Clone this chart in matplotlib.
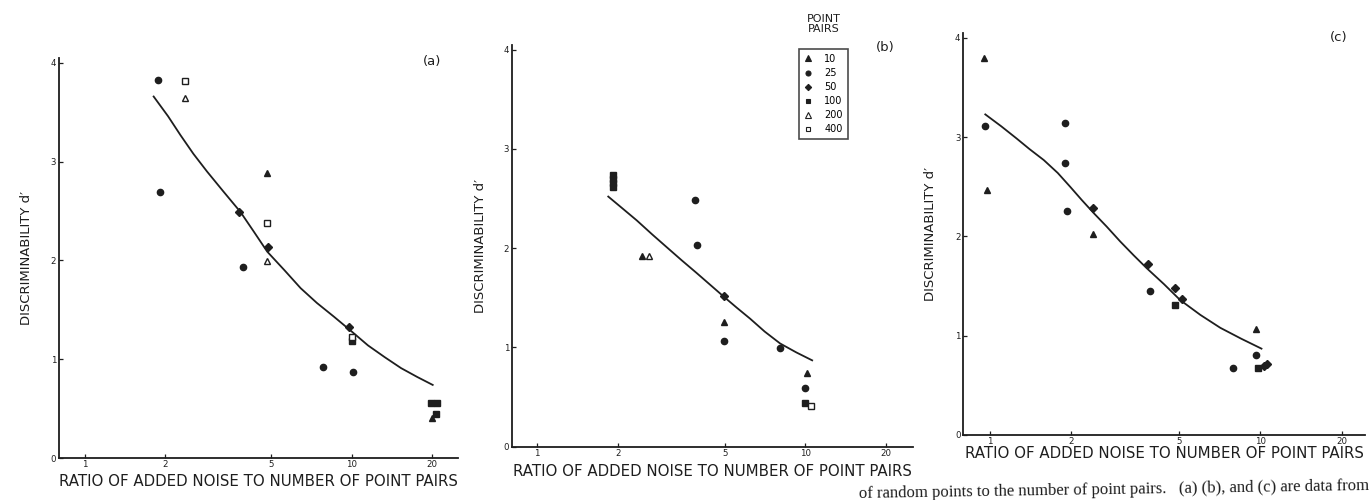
import matplotlib.pyplot as plt
from matplotlib.lines import Line2D

# d' gegen Verhaeltnis Rauschen / Punktpaare, drei Teilbilder
pair_sizes = [10, 25, 50, 100, 200, 400]
pair_labels = ['10', '25', '50', '100', '200', '400']

x_ticks = [1, 2, 5, 10, 20]
x_tick_labels = ['1', '2', '5', '10', '20']
y_ticks = [0, 1, 2, 3, 4]

# (a)
a_x = [1.88, 1.92, 3.90, 7.83, 10.1, 2.38, 4.80, 10.0, 2.38, 4.80, 4.80, 20.0, 3.79, 4.85, 9.75, 10.0, 19.8, 20.8, 20.7]
a_y = [3.83, 2.69, 1.93, 0.92, 0.87, 3.82, 2.38, 1.23, 3.64, 1.99, 2.89, 0.41, 2.49, 2.14, 1.33, 1.18, 0.56, 0.56, 0.45]
a_pairs = [25, 25, 25, 25, 25, 400, 400, 400, 200, 200, 10, 10, 50, 50, 50, 100, 100, 100, 100]
a_curve_x = [1.81, 2.05, 2.28, 2.55, 2.87, 3.30, 3.83, 4.30, 4.82, 5.60, 6.43, 7.40, 8.58, 10.0, 11.5, 13.3, 15.3, 17.6, 20.1]
a_curve_y = [3.66, 3.46, 3.27, 3.08, 2.90, 2.70, 2.49, 2.29, 2.09, 1.90, 1.72, 1.57, 1.43, 1.28, 1.14, 1.02, 0.91, 0.82, 0.74]

# (b)
b_x = [1.92, 1.92, 1.92, 1.92, 2.45, 2.60, 3.88, 3.93, 4.97, 8.05, 10.0, 4.97, 4.97, 10.1, 10.0, 10.5]
b_y = [2.74, 2.70, 2.66, 2.62, 1.92, 1.92, 2.49, 2.03, 1.06, 0.99, 0.59, 1.52, 1.26, 0.74, 0.44, 0.41]
b_pairs = [100, 100, 100, 100, 10, 200, 25, 25, 25, 25, 25, 50, 10, 10, 100, 400]
b_curve_x = [1.84, 2.08, 2.35, 2.68, 3.04, 3.45, 3.93, 4.42, 4.97, 5.55, 6.22, 7.05, 8.05, 9.25, 10.6]
b_curve_y = [2.52, 2.40, 2.28, 2.14, 2.01, 1.88, 1.75, 1.63, 1.51, 1.40, 1.29, 1.16, 1.04, 0.95, 0.87]

# (c)
c_x = [0.95, 0.97, 2.41, 9.6, 0.96, 1.90, 1.90, 1.93, 3.89, 7.9, 9.6, 2.41, 3.83, 4.82, 5.13, 4.82, 9.8, 10.3, 10.6]
c_y = [3.80, 2.47, 2.02, 1.07, 3.11, 3.14, 2.74, 2.26, 1.45, 0.68, 0.81, 2.29, 1.72, 1.48, 1.37, 1.31, 0.67, 0.70, 0.72]
c_pairs = [10, 10, 10, 10, 25, 25, 25, 25, 25, 25, 25, 50, 50, 50, 50, 100, 100, 50, 50]
c_curve_x = [0.96, 1.10, 1.25, 1.40, 1.58, 1.78, 1.98, 2.18, 2.41, 2.70, 3.03, 3.40, 3.80, 4.40, 5.05, 6.00, 7.11, 8.50, 10.1]
c_curve_y = [3.23, 3.11, 2.99, 2.88, 2.77, 2.64, 2.50, 2.37, 2.24, 2.10, 1.95, 1.81, 1.68, 1.52, 1.36, 1.21, 1.08, 0.97, 0.87]

INK = '#1e1e1e'
W, H = 1369, 500

# Markerform je Anzahl Punktpaare
marker_style = {
    10: dict(marker='^', mfc=INK, ms=5),
    25: dict(marker='o', mfc=INK, ms=4.5),
    50: dict(marker='D', mfc=INK, ms=4),
    100: dict(marker='s', mfc=INK, ms=4.2),
    200: dict(marker='^', mfc='white', ms=5),
    400: dict(marker='s', mfc='white', ms=4.2),
}

plt.rcParams['font.family'] = 'DejaVu Sans'
fig = plt.figure(figsize=(W / 100, H / 100), dpi=100)


def draw_panel(rect, xlim, xs, ys, pairs, cx, cy, tag, tag_pos, xlab_y, ylab_x):
    ax = fig.add_axes(rect)
    ax.plot(cx, cy, color=INK, lw=1.3)
    for p in pair_sizes:
        px = [x for x, q in zip(xs, pairs) if q == p]
        py = [y for y, q in zip(ys, pairs) if q == p]
        if px:
            st = marker_style[p]
            ax.plot(px, py, ls='none', marker=st['marker'], ms=st['ms'],
                    mfc=st['mfc'], mec=INK, mew=1.0)
    ax.set_xscale('log')
    ax.set_xlim(*xlim)
    ax.set_ylim(0, 4.05)
    ax.set_xticks(x_ticks)
    ax.set_xticklabels(x_tick_labels)
    ax.minorticks_off()
    ax.set_yticks(y_ticks)
    ax.tick_params(direction='in', length=3, width=0.9, colors=INK, labelsize=6.2)
    ax.tick_params(axis='x', pad=1.5)
    ax.tick_params(axis='y', pad=2)
    for s in ['top', 'right']:
        ax.spines[s].set_visible(False)
    for s in ['left', 'bottom']:
        ax.spines[s].set_linewidth(1.3)
        ax.spines[s].set_color(INK)
    ax.patch.set_alpha(0)
    # Beschriftungen in Pixelkoordinaten
    cxp = (rect[0] + rect[2] / 2)
    fig.text(cxp, 1 - xlab_y / H, 'RATIO OF ADDED NOISE TO NUMBER OF POINT PAIRS',
             ha='center', va='center', fontsize=10.8, color=INK)
    fig.text(ylab_x / W, rect[1] + rect[3] / 2, 'DISCRIMINABILITY d\u2032',
             ha='center', va='center', rotation=90, fontsize=9.5, color=INK)
    fig.text(tag_pos[0] / W, 1 - tag_pos[1] / H, tag, ha='center', va='center',
             fontsize=9.5, color=INK)
    return ax


ax_a = draw_panel([59 / W, 1 - 458 / H, 399 / W, 400 / H], (0.80, 25.0),
                  a_x, a_y, a_pairs, a_curve_x, a_curve_y, '(a)', (432, 62), 481, 27)
ax_b = draw_panel([512 / W, 1 - 446.7 / H, 401 / W, 402 / H], (0.805, 25.2),
                  b_x, b_y, b_pairs, b_curve_x, b_curve_y, '(b)', (885, 47), 471, 480)
ax_c = draw_panel([963.3 / W, 1 - 435 / H, 401.7 / W, 402 / H], (0.796, 24.4),
                  c_x, c_y, c_pairs, c_curve_x, c_curve_y, '(c)', (1339, 37), 453, 930)

# Legende in (b)
handles = []
for p in pair_sizes:
    st = marker_style[p]
    handles.append(Line2D([], [], ls='none', marker=st['marker'], ms=st['ms'] * 0.8,
                          mfc=st['mfc'], mec=INK, mew=0.8))
leg = ax_b.legend(handles, pair_labels, loc='upper left',
                  bbox_to_anchor=(799 / W, 1 - 49 / H), bbox_transform=fig.transFigure,
                  fontsize=7, frameon=True, fancybox=False, edgecolor=INK,
                  handlelength=0.8, handletextpad=1.3, labelspacing=0.42,
                  borderpad=0.5, borderaxespad=0)
leg.get_frame().set_linewidth(1.2)
fig.text(824 / W, 1 - 24 / H, 'POINT\nPAIRS', ha='center', va='center',
         fontsize=8, color=INK, linespacing=1.0)

# Bildunterschrift am unteren Rand (im Original angeschnitten)
fig.text(1.0, 1 - 490 / H,
         'of random points to the number of point pairs.   (a) (b), and (c) are data from',
         ha='right', va='baseline', fontsize=12, family='Liberation Serif', color=INK,
         rotation=0.9, rotation_mode='anchor')

fig.savefig('out.png', dpi=100)
